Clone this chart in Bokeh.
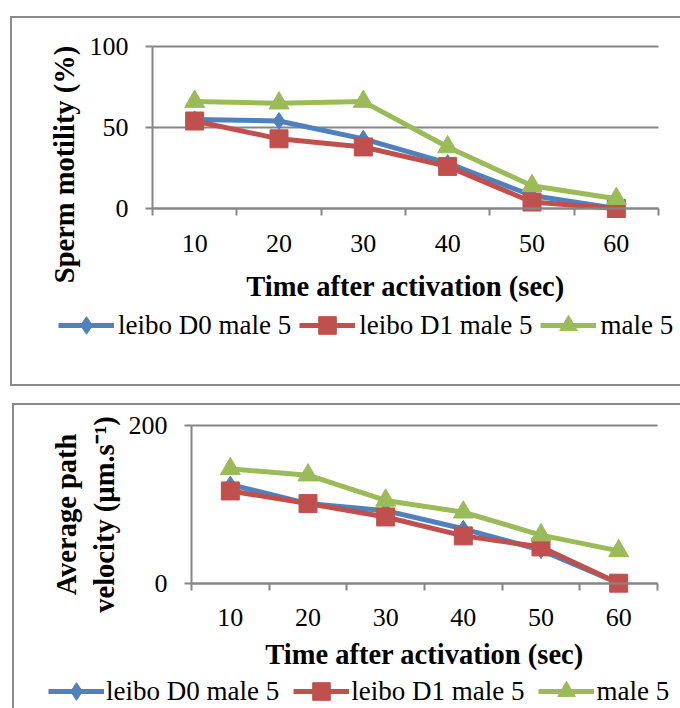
import math
from bokeh.plotting import figure
from bokeh.models import FixedTicker, Label, Legend, LegendItem, Range1d
from bokeh.embed import file_html
from bokeh.resources import INLINE

# ---- data -------------------------------------------------------------
times = [10, 20, 30, 40, 50, 60]
series_names = ["leibo D0 male 5", "leibo D1 male 5", "male 5"]
motility_d0 = [55, 54, 43, 28, 8, 0]
motility_d1 = [54, 43, 38, 26, 4, 0]
motility_ctrl = [66, 65, 66, 38, 14, 6]
velocity_d0 = [125, 101, 92, 69, 42, 0]
velocity_d1 = [117, 101, 84, 60, 46, 0]
velocity_ctrl = [145, 137, 105, 90, 61, 41]
motility_ticks = [0, 50, 100]
velocity_ticks = [0, 200]
x_title = "Time after activation (sec)"
motility_title = "Sperm motility (%)"
velocity_title = "Average path\nvelocity (µm.s⁻¹)"

# ---- style ------------------------------------------------------------
COLORS = ["#4f81bd", "#c0504d", "#9bbb59"]
MARKERS = ["diamond", "square", "triangle"]
SIZES = [17, 18, 20]
GREY = "#868686"
BOX = "#8a8a8a"
SERIF = "Liberation Serif"


def panel(width, height, box_px, yticks, series, ytitle, ytitle_xy, xtitle_y,
          legend_xy, legend_spacing, legend_standoff, tick_standoff, margin,
          box_sides):
    """box_px = (left, right, top, bottom) pixel positions of the plot area
    inside the canvas; the frame covers the whole canvas and the axes are
    pinned with fixed_location so that every annotation stays in the frame."""
    step = times[1] - times[0]
    x0, x1 = times[0] - step / 2, times[-1] + step / 2
    y0, y1 = yticks[0], yticks[-1]
    bl, br, bt, bb = box_px
    kx = (x1 - x0) / (br - bl)
    ky = (y1 - y0) / (bb - bt)
    p = figure(width=width, height=height,
               x_range=Range1d(x0 - bl * kx, x1 + (width - br) * kx),
               y_range=Range1d(y0 - (height - bb) * ky, y1 + bt * ky),
               output_backend="svg", toolbar_location=None,
               min_border=0)
    p.margin = margin
    p.styles = {f"border-{s}": f"2px solid {BOX}" for s in box_sides}
    p.outline_line_color = None
    p.background_fill_color = "white"
    p.border_fill_color = "white"

    # x axis
    xa = p.xaxis[0]
    xa.fixed_location = y0
    xa.bounds = (x0, x1)
    xa.ticker = FixedTicker(ticks=times,
                            minor_ticks=[t - step / 2 for t in times] + [x1])
    xa.axis_line_color = GREY
    xa.axis_line_width = 2
    xa.major_tick_out = 0
    xa.major_tick_in = 0
    xa.minor_tick_out = 7
    xa.minor_tick_in = 0
    xa.minor_tick_line_color = GREY
    xa.minor_tick_line_width = 2
    xa.major_label_text_font = SERIF
    xa.major_label_text_font_size = "26px"
    xa.major_label_text_color = "black"
    xa.major_label_standoff = tick_standoff

    # y axis
    ya = p.yaxis[0]
    ya.fixed_location = x0
    ya.bounds = (y0, y1)
    ya.ticker = FixedTicker(ticks=yticks, minor_ticks=[])
    ya.axis_line_color = GREY
    ya.axis_line_width = 2
    ya.major_tick_out = 7
    ya.major_tick_in = 0
    ya.major_tick_line_color = GREY
    ya.major_tick_line_width = 2
    ya.major_label_text_font = SERIF
    ya.major_label_text_font_size = "26px"
    ya.major_label_text_color = "black"
    ya.major_label_standoff = 17

    p.xgrid.visible = False
    grid = p.ygrid[0]
    if "cross_bounds" in grid.properties():
        grid.ticker = FixedTicker(ticks=yticks, minor_ticks=[])
        grid.bounds = (y0, y1)
        grid.cross_bounds = (x0, x1)
        grid.grid_line_color = GREY
        grid.grid_line_width = 2
    else:
        grid.visible = False
        p.segment(x0=[x0] * len(yticks), x1=[x1] * len(yticks),
                  y0=yticks, y1=yticks, line_color=GREY, line_width=2)

    items = []
    for name, vals, col, mk, sz in zip(series_names, series, COLORS, MARKERS, SIZES):
        lr = p.line(times, vals, line_color=col, line_width=5, line_join="round")
        sr = p.scatter(times, vals, marker=mk, size=sz, fill_color=col, line_color=col)
        items.append(LegendItem(label=name, renderers=[lr, sr]))

    leg = Legend(items=items, orientation="horizontal", location=legend_xy,
                 glyph_width=56, glyph_height=44, spacing=legend_spacing,
                 label_standoff=legend_standoff, padding=0, margin=0,
                 border_line_color=None, background_fill_alpha=0,
                 label_text_font=SERIF, label_text_font_size="27px",
                 label_text_color="black")
    p.add_layout(leg, "center")

    p.add_layout(Label(x=ytitle_xy[0], y=ytitle_xy[1], x_units="screen",
                       y_units="screen", text=ytitle, angle=math.pi / 2,
                       text_align="center", text_baseline="middle",
                       text_font=SERIF, text_font_style="bold",
                       text_font_size="28.5px", text_color="black",
                       text_line_height=1.25))
    p.add_layout(Label(x=(x0 + x1) / 2, y=xtitle_y, x_units="data",
                       y_units="screen", text=x_title, text_align="center",
                       text_baseline="middle", text_font=SERIF,
                       text_font_style="bold", text_font_size="28.5px",
                       text_color="black"))
    return p


# canvas of top panel starts at (12, 18) in the page, bottom one at (14, 405)
top = panel(670, 370, (140, 646, 28, 190), motility_ticks,
            [motility_d0, motility_d1, motility_ctrl], motility_title,
            (52, 224), 102, (46, 41), 8, 4, 19, (16, 0, 0, 10),
            ("left", "top", "bottom"))
bottom = panel(668, 305, (177, 643, 20, 177.7), velocity_ticks,
               [velocity_d0, velocity_d1, velocity_ctrl], velocity_title,
               (71, 196), 56, (34, -3), 14, 2, 19, (17, 0, 0, 12),
               ("left", "top"))

open("out.html", "w").write(file_html([top, bottom], INLINE))
